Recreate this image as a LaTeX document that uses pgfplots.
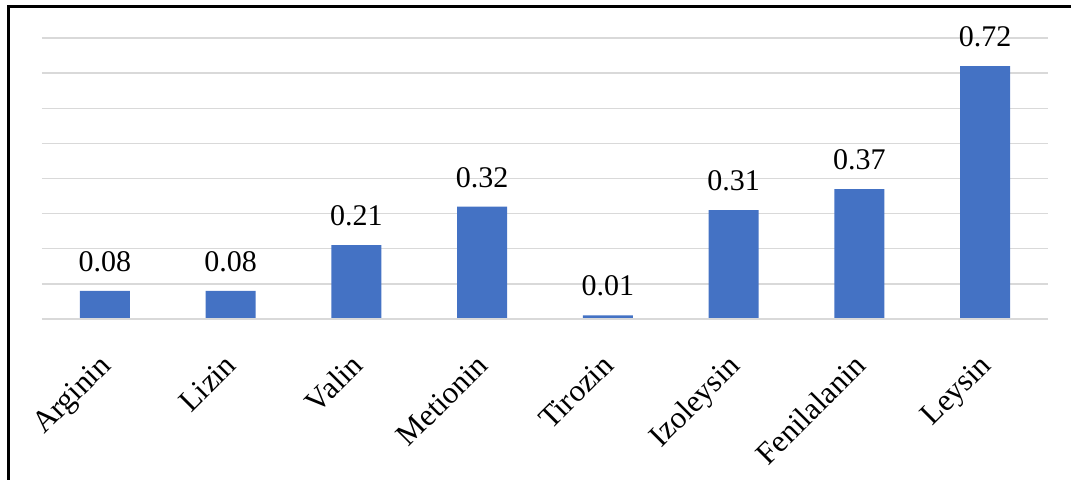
\documentclass[border=0pt]{standalone}
\usepackage{pgfplots}
\pgfplotsset{compat=1.18}
\usepackage{fontspec}
\setmainfont{Liberation Serif}

\definecolor{barblue}{HTML}{4472C4}
\definecolor{gridgray}{HTML}{D9D9D9}

\begin{document}
\begin{tikzpicture}[x=0.5pt,y=0.5pt]
\useasboundingbox (0,0) rectangle (1071,480);
\begin{axis}[
    at={(21pt,80.5pt)}, anchor=south west,
    scale only axis,
    width=503pt, height=140.5pt,
    xmin=-0.5, xmax=7.5,
    ymin=0, ymax=0.8,
    ytick={0,0.1,...,0.8},
    yticklabels={},
    ymajorgrids=true,
    grid style={gridgray, line width=0.75pt},
    major tick length=0pt,
    axis line style={draw=none},
    xtick=data,
    xticklabels={Arginin,Lizin,Valin,Metionin,Tirozin,Izoleysin,Fenilalanin,Leysin},
    xticklabel style={rotate=45, anchor=north east, font=\fontsize{15.5}{17}\selectfont, inner sep=0pt, xshift=-14.3pt, yshift=-9.1pt},
    /pgf/number format/assume math mode=true,
    nodes near coords={\pgfmathprintnumber[fixed,zerofill,precision=2]{\pgfplotspointmeta}},
    every node near coord/.append style={font=\fontsize{15}{17}\selectfont, black, yshift=6pt},
    clip=false,
]
\addplot[ybar, bar width=25pt, fill=barblue, draw=none] coordinates {
    (0,0.08) (1,0.08) (2,0.21) (3,0.32) (4,0.01) (5,0.31) (6,0.37) (7,0.72)
};
\draw[gridgray, line width=0.75pt] (axis cs:-0.5,0) -- (axis cs:7.5,0);
\end{axis}
\draw[black, line width=1.5pt] (8,0) -- (8,473) -- (1071,473);
\end{tikzpicture}
\end{document}
